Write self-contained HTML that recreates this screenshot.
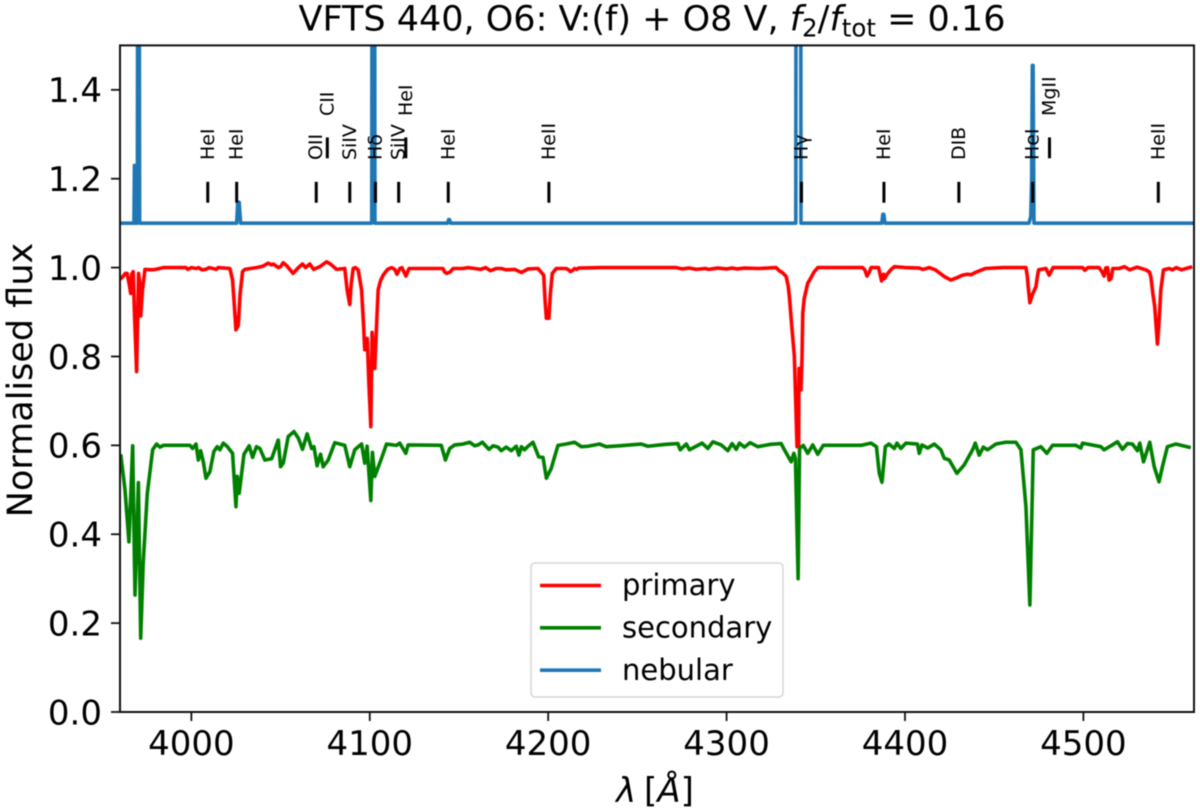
<!DOCTYPE html>
<html lang="en">
<head>
<meta charset="utf-8">
<title>VFTS 440 spectrum</title>
<style>
  html, body { margin: 0; padding: 0; background: #fff; overflow: hidden; }
  svg { display: block; font-family: "DejaVu Sans", "Liberation Sans", sans-serif; filter: blur(0.45px); }
  text { fill: #000; }
</style>
</head>
<body>
<svg id="chart" xmlns="http://www.w3.org/2000/svg" width="1200" height="812" viewBox="0 0 1200 812">
  <rect x="0" y="0" width="1200" height="812" fill="#fff"/>
  <defs>
    <clipPath id="plot-clip"><rect x="120" y="45.4" width="1074" height="667"/></clipPath>
  </defs>
  <g id="series-layer" clip-path="url(#plot-clip)"></g>
  <g id="marker-layer"></g>
  <rect x="120" y="45.4" width="1074" height="666.6" fill="none" stroke="#111" stroke-width="2"/>
  <g id="axis-layer"></g>
  <text x="652" y="30.5" text-anchor="middle" font-size="35">VFTS 440, O6: V:(f) + O8 V, <tspan font-style="italic">f</tspan><tspan font-size="24.5" dy="6">2</tspan><tspan dy="-6">/</tspan><tspan font-style="italic">f</tspan><tspan font-size="24.5" dy="6">tot</tspan><tspan dy="-6"> = 0.16</tspan></text>
  <text transform="translate(32 380) rotate(-90)" text-anchor="middle" font-size="35">Normalised flux</text>
  <text x="655" y="802" text-anchor="middle" font-size="34"><tspan font-style="italic">λ</tspan><tspan dx="-3"> [</tspan><tspan font-style="italic">Å</tspan>]</text>
  <g>
    <rect x="531" y="563" width="252" height="134" rx="4" ry="4" fill="#fff" fill-opacity="0.85" stroke="#d6d6d6" stroke-width="1.5"/>
    <g>
      <line x1="540" x2="601" y1="585.5" y2="585.5" stroke="#ff0000" stroke-width="3.6"/>
      <text x="622" y="595" font-size="29">primary</text>
    </g>
    <g>
      <line x1="540" x2="601" y1="627.8" y2="627.8" stroke="#008000" stroke-width="3.6"/>
      <text x="622" y="637.5" font-size="29">secondary</text>
    </g>
    <g>
      <line x1="540" x2="601" y1="670.2" y2="670.2" stroke="#1f77b4" stroke-width="3.6"/>
      <text x="622" y="680" font-size="29">nebular</text>
    </g>
  </g>
</svg>
<script>
const xTicks = [4000, 4100, 4200, 4300, 4400, 4500];
const yTicks = [0.0, 0.2, 0.4, 0.6, 0.8, 1.0, 1.2, 1.4];
const xLimits = [3960, 4562];
const yLimits = [0, 1.5];

const lineNames = ["HeI","HeI","OII","CII","SiIV","Hδ","SiIV","HeI","HeI","HeII","Hγ","HeI","DIB","HeI","MgII","HeII"];
const lineWaves = [4009.2,4025.4,4070,4076.2,4088.8,4103.2,4116.2,4120.2,4144,4200.4,4342,4388.2,4430.2,4471.6,4481,4542];
const lineTiers = [0,0,0,1,0,0,0,1,0,0,0,0,0,0,1,0];

const primaryWave = [3960,3961.5,3963,3964,3965.3,3966,3966.6,3967.4,3968.1,3969.3,3969.9,3970.4,3971,3971.6,3972.6,3974,3978,3980,3984.3,3997,3998,4000,4003,4004,4006,4008,4010,4014,4015,4021.6,4023.1,4024,4025,4026.3,4027.3,4028.7,4030,4036.5,4040,4043,4045,4046,4048.7,4050,4051.5,4053.5,4057,4060,4062.3,4064,4066.4,4068.5,4072,4075.8,4078,4081.4,4086,4087.3,4088.8,4089.5,4090.7,4092,4093.5,4095.4,4096.4,4097.2,4098,4098.6,4099.5,4100.6,4101.3,4102,4102.8,4103.8,4104.7,4106,4107.5,4110,4112.2,4114,4115.3,4116.8,4118,4120.3,4122,4130,4141,4142,4143.3,4145,4146.7,4152.3,4155,4158.8,4162.2,4165,4167.6,4171,4173.7,4176.5,4181.2,4185,4188.7,4194.3,4197.5,4198.2,4199,4200.4,4201.2,4202.3,4204.5,4210,4211.5,4212.4,4213.5,4214.8,4216,4217,4230,4255,4268,4271.8,4275,4279,4283,4288,4290,4295,4300,4303,4306,4310,4318,4327.8,4329.5,4331.5,4333.4,4334.5,4335.2,4336.5,4338,4339.5,4340.4,4340.6,4341.7,4342.3,4342.7,4343.5,4345.5,4347,4349,4351.1,4376.3,4377.5,4378.7,4380,4381,4385.2,4386.9,4388,4388.5,4390,4392,4394,4400,4408,4410,4412,4413.6,4417,4422,4425.7,4429,4432.3,4435,4437,4440,4445,4455,4467.8,4468.6,4469,4470,4471.5,4473.4,4474.2,4474.9,4479,4480.8,4483,4499.5,4500.8,4502.5,4508.8,4510.5,4511.6,4512.5,4513.5,4514.4,4515.5,4516.5,4520,4523,4526,4530,4535,4537,4537.8,4539,4540,4541.5,4542.3,4543.4,4544.9,4548,4550,4552,4555,4561];
const primaryFlux = [.974,.979,.987,.987,.96,.942,.985,.991,.9,.766,.88,.987,.97,.891,.95,.996,.995,.996,1,1,.996,1,.998,1,.995,.996,1,.996,1,.998,.972,.92,.86,.87,.94,.991,.996,1,1.003,1.01,1.006,1.008,1,1.002,1.011,1.004,.987,1,1.008,1,1.008,.996,1.002,1.013,1.008,.996,.998,.95,.917,.96,.998,1,.995,.95,.88,.815,.84,.84,.74,.642,.854,.8,.773,.87,.95,.97,.983,.996,1,.996,.985,.998,1,.981,.998,.998,.998,.99,.987,.99,.998,.998,1,.998,.996,1,.993,.998,.998,.995,.996,.989,.997,.998,.983,.93,.886,.886,.94,.987,.998,.998,.995,.991,.993,.998,.996,.999,1,1,1,1,.997,.999,.996,.998,.996,.999,.997,.999,.997,.999,.998,1,.993,.988,.98,.96,.935,.87,.8,.597,.597,.773,.725,.8,.897,.93,.965,.975,.99,1,1,.995,.981,.99,1,1,.97,.985,.975,.985,.995,1.002,1,.999,.996,.998,1,.995,.98,.972,.977,.983,.985,.984,.99,.998,1,1,.98,.96,.921,.94,.957,.98,.995,.998,.983,1,1,.994,1,1,.99,.981,.999,1,.972,.975,.998,.998,1.002,.995,1.001,.995,.99,.98,.94,.912,.828,.87,.95,.995,.998,.995,1,.995,1.002];

const secondaryWave = [3960.4,3961,3962.8,3965,3967.1,3968.4,3970.3,3971.6,3973,3975.3,3978.3,3980.5,3982.4,3984.3,3999.2,4000.7,4002.6,4003.9,4005.2,4006.7,4008.2,4010.4,4012.6,4014.5,4016,4017.9,4020,4023.1,4025,4025.7,4026.8,4029.5,4032.4,4034.3,4036.5,4038.4,4041.2,4045,4048.7,4050,4051.5,4054.3,4057.5,4060,4062.3,4064.9,4067.4,4068.7,4070.5,4072.4,4073.9,4076.7,4080.4,4086,4088.8,4091.6,4095.4,4097.2,4098.5,4100.6,4101.5,4102.8,4106.6,4109.4,4115,4116.8,4120.2,4121.5,4140.1,4142.4,4144.8,4147.6,4152.3,4156,4158.8,4160.7,4163.1,4166.8,4169.1,4171.9,4173.7,4176.5,4179.3,4182.1,4183.6,4185,4186.8,4188.7,4191.5,4194.7,4197.1,4199,4201.7,4203.6,4205.5,4210.1,4214.8,4218.6,4222.3,4228.8,4232.5,4240,4252.2,4255.9,4265.2,4272.7,4274,4277.4,4279.2,4282,4286.3,4289.5,4292.3,4297,4300.7,4303.1,4305.4,4307.2,4310,4313.2,4317.5,4324,4330.6,4332.4,4336.2,4337.7,4338.6,4340.1,4340.9,4343,4345.5,4348.3,4351.1,4354.2,4375.3,4381,4384,4385.6,4387.1,4389,4391,4394,4395.5,4397.7,4400.5,4407,4408,4409.5,4412.7,4416.4,4420.1,4422,4424.8,4429.1,4433.2,4437.9,4439.4,4441.6,4443.9,4446.3,4451,4456.5,4462.2,4465,4467.8,4470,4471.9,4476.2,4479.5,4482.7,4495.8,4498.6,4499.5,4509.8,4511.6,4515.4,4519.1,4521.9,4524.7,4527.5,4530.3,4531.6,4533.7,4537.2,4539.7,4542.4,4544.3,4547.1,4551.8,4560.2];
const secondaryFlux = [.58,.56,.5,.383,.599,.263,.516,.166,.335,.492,.59,.603,.596,.6,.6,.593,.603,.567,.588,.563,.526,.541,.586,.597,.59,.605,.598,.582,.462,.53,.492,.58,.599,.573,.597,.593,.567,.57,.612,.552,.56,.62,.631,.616,.591,.626,.593,.597,.554,.58,.552,.567,.606,.6,.552,.59,.603,.56,.598,.476,.584,.53,.571,.603,.6,.605,.582,.601,.6,.567,.593,.601,.603,.607,.599,.601,.607,.591,.599,.596,.588,.596,.588,.598,.578,.597,.59,.598,.607,.574,.573,.526,.548,.574,.6,.603,.607,.597,.598,.603,.597,.599,.603,.598,.602,.604,.59,.603,.59,.596,.605,.593,.608,.601,.588,.604,.591,.605,.596,.606,.597,.602,.604,.59,.563,.582,.57,.3,.593,.6,.582,.601,.58,.6,.6,.605,.597,.537,.517,.597,.603,.593,.605,.593,.605,.603,.582,.601,.594,.603,.59,.571,.567,.537,.556,.59,.605,.578,.596,.59,.603,.607,.607,.59,.462,.241,.59,.597,.582,.6,.6,.594,.605,.597,.59,.599,.608,.591,.604,.603,.588,.605,.563,.607,.552,.518,.552,.597,.603,.595];

const nebularWave = [3960,3967.8,3968.1,3968.4,3969.7,3970.1,3970.6,3971,4025.4,4026,4026.8,4027.6,4101.1,4101.4,4102.6,4102.9,4143.6,4144.2,4144.7,4145.3,4338.8,4339.1,4341.4,4341.7,4387,4387.6,4388.1,4388.8,4469.5,4470.5,4471,4471.4,4471.8,4472.3,4562];
const nebularFlux = [1.1,1.1,1.23,1.1,1.1,2.2,2.2,1.1,1.1,1.147,1.147,1.1,1.1,2.2,2.2,1.1,1.1,1.108,1.108,1.1,1.1,2.6,2.6,1.1,1.1,1.12,1.12,1.1,1.1,1.115,1.2,1.455,1.455,1.1,1.1];

const svgNS = "http://www.w3.org/2000/svg";
const plotLeft = 120, plotRight = 1194, plotTop = 45.4, plotBottom = 712;
const barHeight = 0.047, tierBarBase = [1.146, 1.246], tierTextBase = [1.242, 1.341];

function xScale(w) { return plotLeft + (w - xLimits[0]) / (xLimits[1] - xLimits[0]) * (plotRight - plotLeft); }
function yScale(f) { return plotBottom - (f - yLimits[0]) / (yLimits[1] - yLimits[0]) * (plotBottom - plotTop); }
function make(tag, parent) { const el = document.createElementNS(svgNS, tag); parent.appendChild(el); return el; }

const seriesLayer = document.getElementById("series-layer");
const markerLayer = document.getElementById("marker-layer");
const axisLayer = document.getElementById("axis-layer");

function drawSeries(waves, fluxes, color, name) {
  const el = make("polyline", seriesLayer);
  
  
  el.setAttribute("points", waves.map((w, i) => xScale(w).toFixed(2) + "," + yScale(fluxes[i]).toFixed(2)).join(" "));
  el.setAttribute("fill", "none");
  el.setAttribute("stroke", color);
  el.setAttribute("stroke-width", "3.6");
  el.setAttribute("stroke-linejoin", "round");
}
drawSeries(primaryWave, primaryFlux, "#ff0000", "primary-spectrum-line");
drawSeries(secondaryWave, secondaryFlux, "#008000", "secondary-spectrum-line");
drawSeries(nebularWave, nebularFlux, "#1f77b4", "nebular-spectrum-line");

lineNames.forEach((label, i) => {
  const tier = lineTiers[i];
  const x = xScale(lineWaves[i]);
  const bar = make("line", markerLayer);
  
  
  bar.setAttribute("x1", x);
  bar.setAttribute("x2", x);
  bar.setAttribute("y1", yScale(tierBarBase[tier]));
  bar.setAttribute("y2", yScale(tierBarBase[tier] + barHeight));
  bar.setAttribute("stroke", "#000");
  bar.setAttribute("stroke-width", "3");
  const text = make("text", markerLayer);
  
  
  text.setAttribute("transform", "translate(" + (x + 6) + " " + yScale(tierTextBase[tier]) + ") rotate(-90)");
  text.setAttribute("font-size", "19");
  text.textContent = label;
});

xTicks.forEach(v => {
  const x = xScale(v);
  const tick = make("line", axisLayer);
  
  
  tick.setAttribute("x1", x);
  tick.setAttribute("x2", x);
  tick.setAttribute("y1", plotBottom);
  tick.setAttribute("y2", plotBottom + 9);
  tick.setAttribute("stroke", "#111");
  tick.setAttribute("stroke-width", "1.8");
  const label = make("text", axisLayer);
  
  
  label.setAttribute("x", x);
  label.setAttribute("y", 755);
  label.setAttribute("text-anchor", "middle");
  label.setAttribute("font-size", "34");
  label.textContent = String(v);
});

yTicks.forEach(v => {
  const y = yScale(v);
  const tick = make("line", axisLayer);
  
  
  tick.setAttribute("x1", plotLeft);
  tick.setAttribute("x2", plotLeft - 9);
  tick.setAttribute("y1", y);
  tick.setAttribute("y2", y);
  tick.setAttribute("stroke", "#111");
  tick.setAttribute("stroke-width", "1.8");
  const label = make("text", axisLayer);
  
  
  label.setAttribute("x", 102);
  label.setAttribute("y", y + 12.3);
  label.setAttribute("text-anchor", "end");
  label.setAttribute("font-size", "34");
  label.textContent = v.toFixed(1);
});
</script>
</body>
</html>
